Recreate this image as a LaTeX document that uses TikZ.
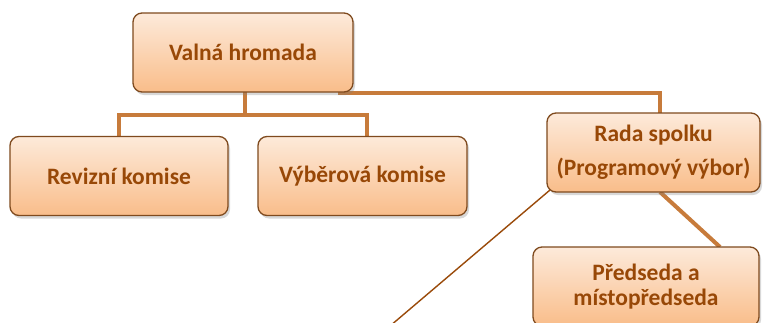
\documentclass[tikz,border=0pt]{standalone}
\usepackage{fontspec}
\setmainfont{Carlito}
\usetikzlibrary{shadows,backgrounds}
\definecolor{boxtop}{HTML}{FDEADA}
\definecolor{boxbot}{HTML}{F9BD8A}
\definecolor{boxdraw}{HTML}{7F4A1E}
\definecolor{txt}{HTML}{984807}
\definecolor{connc}{HTML}{C77B3B}
\definecolor{thinc}{HTML}{9A4A0A}
\begin{document}
\begin{tikzpicture}[x=1pt,y=-1pt,
  box/.style={draw=boxdraw, line width=1.3pt, rounded corners=9pt,
    top color=boxtop, bottom color=boxbot, text=txt,
    font=\fontsize{23.5}{25}\selectfont\bfseries, align=center,
    inner sep=0pt, outer sep=0pt, minimum height=79pt,
    drop shadow={shadow xshift=2pt, shadow yshift=-3pt, opacity=0.3}},
  conn/.style={draw=connc, line width=4pt},
  thinline/.style={draw=thinc, line width=1.4pt}]
\useasboundingbox (0,0) rectangle (763,322);
\clip (0,0) rectangle (763,322);
\node[box, minimum width=220pt] (vh) at (243,52.5) {Valná hromada};
\node[box, minimum width=218pt] (rk) at (119,176) {Revizní komise};
\node[box, minimum width=209pt] (vk) at (362.5,176) {Výběrová komise};
\node[box, minimum width=213pt] (rs) at (653.5,152.5) {Rada spolku\\[9pt](Programový výbor)};
\node[box, minimum width=226pt] (pm) at (646,286.5) {Předseda a\\místopředseda};
\coordinate (j) at (245,115);
\coordinate (tend) at (390,326);
\begin{scope}[on background layer]
\fill[white] (0,0) rectangle (763,322);
\draw[conn] (vh.south -| j) -- (j);
\draw[conn] (rk.north) |- (j) -| ([xshift=4.5pt]vk.north);
\draw[conn] ([xshift=-15pt,yshift=-1pt]vh.south east) -| ([xshift=6.5pt]rs.north);
\draw[conn] ([xshift=6.5pt]rs.south) -- ([xshift=74pt]pm.north);
\end{scope}
\draw[thinline] ([xshift=3pt,yshift=2pt]rs.south west) -- (tend);
\end{tikzpicture}
\end{document}
